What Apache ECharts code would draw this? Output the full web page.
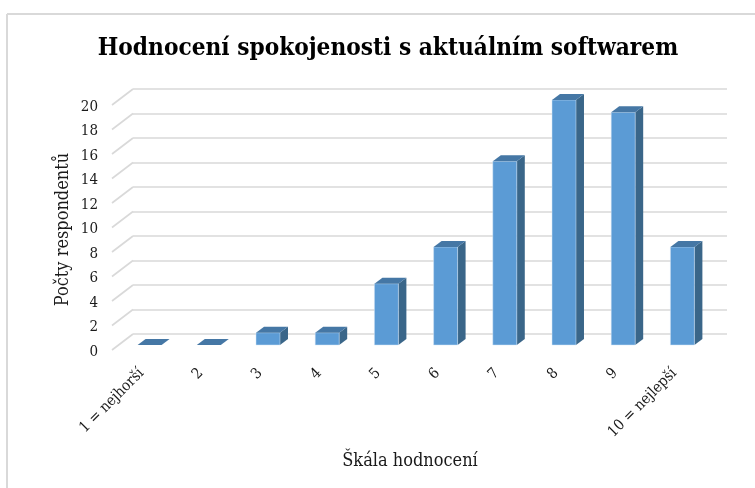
<!DOCTYPE html>
<html><head><meta charset="utf-8">
<style>html,body{margin:0;padding:0;background:#fff}#c{width:755px;height:488px}</style>
<script src="https://cdn.jsdelivr.net/npm/echarts@6/dist/echarts.min.js"></script>
</head><body><div id="c"></div>
<script>
const titleText = 'Hodnocení spokojenosti s aktuálním softwarem';
const xName = 'Škála hodnocení';
const yName = 'Počty respondentů';
const categories = ['1 = nejhorší','2','3','4','5','6','7','8','9','10 = nejlepší'];
const values = [0,0,1,1,5,8,15,20,19,8];
const ticks = [0,2,4,6,8,10,12,14,16,18,20];
const font = '"DejaVu Serif Condensed", "Liberation Serif", serif';
const grey = '#d9d9d9';
const textColor = '#1a1a1a';
const depthX = 8, depthY = 6;      // bar depth in px
const wallX = 21, wallY = 16;      // floor depth in px
const labelDrop = 2;               // labels sit slightly below the front edge

const chart = echarts.init(document.getElementById('c'), null, {renderer:'canvas'});
chart.setOption({
  animation:false,
  backgroundColor:'#fff',
  title:{text:titleText,left:383,top:32,textAlign:'center',
    textStyle:{fontFamily:font,fontWeight:'bold',fontSize:24.2,color:'#000'}},
  graphic:[
    {type:'line',z:0,shape:{x1:7,y1:14,x2:755,y2:14},style:{stroke:grey,lineWidth:2}},
    {type:'line',z:0,shape:{x1:7,y1:14,x2:7,y2:488},style:{stroke:grey,lineWidth:2}}
  ],
  grid:[
    {left:120,top:100,width:592,height:245},   // bar plane
    {left:112,top:105+labelDrop,width:592,height:245},   // front edge: labels
    {left:133,top:89,width:594,height:245}     // back wall: gridlines
  ],
  xAxis:[
    {gridIndex:0,type:'category',data:categories,show:false},
    {gridIndex:1,type:'category',data:categories,
      axisLine:{show:false},axisTick:{show:false},
      axisLabel:{rotate:45,interval:0,margin:19,fontFamily:font,fontSize:15,color:textColor},
      name:xName,nameLocation:'middle',nameGap:100,nameMoveOverlap:false,
      nameTextStyle:{fontFamily:font,fontSize:18,color:textColor,padding:[0,0,0,4]}},
    {gridIndex:2,type:'value',min:0,max:1,show:false,splitLine:{show:false}}
  ],
  yAxis:[
    {gridIndex:0,type:'value',min:0,max:20,interval:2,show:false,splitLine:{show:false}},
    {gridIndex:1,type:'value',min:0,max:20,interval:2,
      axisLine:{show:false},axisTick:{show:false},splitLine:{show:false},
      axisLabel:{margin:14,fontFamily:font,fontSize:15,color:textColor},
      name:yName,nameLocation:'middle',nameGap:40,nameMoveOverlap:false,
      nameTextStyle:{fontFamily:font,fontSize:18,color:textColor}},
    {gridIndex:2,type:'value',min:0,max:20,interval:2,
      axisLine:{show:false},axisTick:{show:false},axisLabel:{show:false},
      splitLine:{show:true,lineStyle:{color:grey,width:1.6}}}
  ],
  series:[
    {type:'custom',xAxisIndex:1,yAxisIndex:1,z:1,silent:true,
      data:ticks.map(t=>[0,t]),
      encode:{x:0,y:1},
      renderItem(params,api){
        const yPx = api.coord([0,api.value(1)])[1]-labelDrop;
        const x0 = api.coord([0,0])[0]-api.size([1,0])[0]/2;
        return {type:'line',shape:{x1:x0,y1:yPx,x2:x0+wallX,y2:yPx-wallY},
          style:{stroke:grey,lineWidth:1.6}};
      }},
    {type:'custom',xAxisIndex:0,yAxisIndex:0,z:3,silent:true,
      data:values.map((v,i)=>[i,v]),
      encode:{x:0,y:1},
      renderItem(params,api){
        const i = api.value(0), v = api.value(1);
        const top = api.coord([i,v]), base = api.coord([i,0]);
        const w = api.size([1,0])[0]*0.405;
        const l = top[0]-w/2, r = top[0]+w/2, t = top[1], b = base[1];
        const children = [];
        if (v>0){
          children.push({type:'polygon',shape:{points:[[r,t],[r+depthX,t-depthY],[r+depthX,b-depthY],[r,b]]},
            style:{fill:'#3a6689'}});
          children.push({type:'rect',shape:{x:l,y:t,width:w,height:b-t},
            style:{fill:'#5b9bd5',stroke:'#d3e4f4',lineWidth:0.5}});
        }
        children.push({type:'polygon',shape:{points:[[l,t],[l+depthX,t-depthY],[r+depthX,t-depthY],[r,t]]},
          style:{fill:'#4577a5'}});
        return {type:'group',children};
      }}
  ]
});
</script></body></html>
